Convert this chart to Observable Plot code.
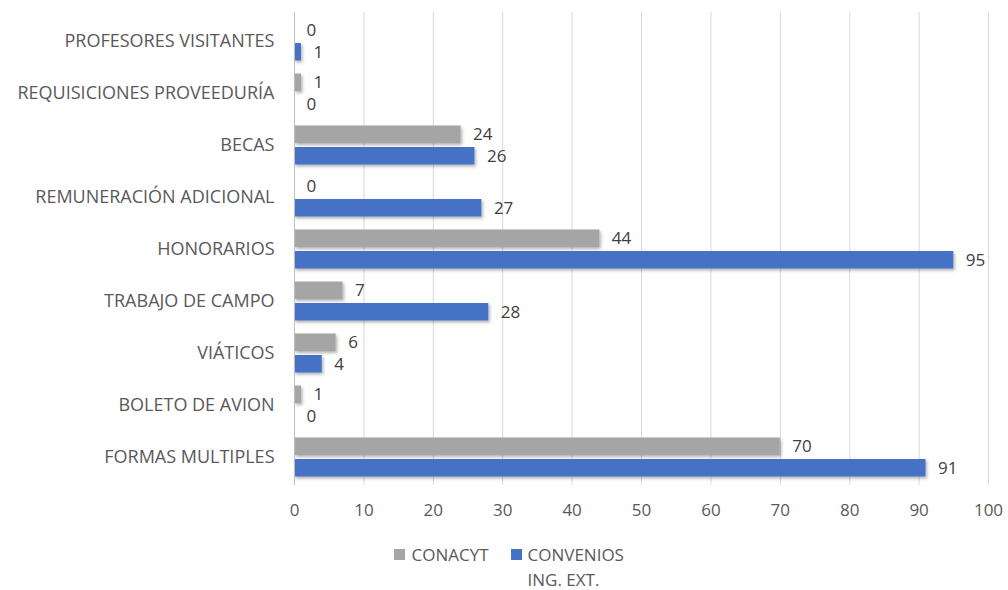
<!DOCTYPE html>
<html>
<head>
<meta charset="utf-8">
<script src="https://cdn.jsdelivr.net/npm/d3@7"></script>
<script src="https://cdn.jsdelivr.net/npm/@observablehq/plot@0.6"></script>
<style>
  body { margin: 0; background: #fff; font-family: "Open Sans", sans-serif; }
  #legend { display: flex; justify-content: center; gap: 22px; color: #595959; font-size: 17px; margin-top: 12px; padding-left: 24px; }
  .item { display: flex; align-items: flex-start; }
  .sw { width: 11px; height: 11px; margin-right: 6px; margin-top: 7px; flex: none; }
  .lbl { max-width: 110px; line-height: 25px; }
</style>
</head>
<body>
<div id="chart"></div>
<div id="legend"></div>
<script>
const categories = ["PROFESORES VISITANTES", "REQUISICIONES PROVEEDURÍA", "BECAS", "REMUNERACIÓN ADICIONAL", "HONORARIOS", "TRABAJO DE CAMPO", "VIÁTICOS", "BOLETO DE AVION", "FORMAS MULTIPLES"];
const seriesNames = ["CONACYT", "CONVENIOS ING. EXT."];
const conacyt = [0, 1, 24, 0, 44, 7, 6, 1, 70];
const convenios = [1, 0, 26, 27, 95, 28, 4, 0, 91];
const xTicks = [0, 10, 20, 30, 40, 50, 60, 70, 80, 90, 100];
const colors = ["#a5a5a5", "#4472c4"];

const rows = [];
categories.forEach((c, i) => {
  rows.push({category: c, series: seriesNames[0], value: conacyt[i]});
  rows.push({category: c, series: seriesNames[1], value: convenios[i]});
});
const gray = rows.filter(d => d.series === seriesNames[0]);
const blue = rows.filter(d => d.series === seriesNames[1]);

const plot = Plot.plot({
  width: 1008,
  height: 530,
  marginLeft: 294,
  marginRight: 20,
  marginTop: 12,
  marginBottom: 45,
  style: {fontFamily: "'Open Sans', sans-serif", fontSize: "17px", color: "#595959", background: "#fff"},
  x: {domain: [0, 100], ticks: xTicks, tickSize: 0, tickPadding: 18, label: null},
  y: {domain: categories, padding: 0, tickSize: 0, tickPadding: 20, label: null},
  marks: [
    Plot.ruleX(xTicks.slice(1), {stroke: "#d9d9d9", strokeWidth: 1}),
    Plot.barX(gray, {x: "value", y: "category", fill: colors[0], insetTop: 6.5, insetBottom: 28}),
    Plot.barX(blue, {x: "value", y: "category", fill: colors[1], insetTop: 28, insetBottom: 6.5}),
    Plot.ruleX([0], {stroke: "#bfbfbf", strokeWidth: 1}),
    Plot.text(gray, {x: "value", y: "category", text: d => String(d.value), dx: 12, dy: -11, textAnchor: "start", fill: "#404040", fontSize: 17}),
    Plot.text(blue, {x: "value", y: "category", text: d => String(d.value), dx: 12, dy: 11, textAnchor: "start", fill: "#404040", fontSize: 17})
  ]
});

// y-axis category labels a bit larger, like the reference
plot.querySelectorAll("g[aria-label='y-axis tick label'] text, g[aria-label='y-axis'] text").forEach(t => t.setAttribute("font-size", "18"));

// subtle drop shadow on bars
const ns = "http://www.w3.org/2000/svg";
const defs = document.createElementNS(ns, "defs");
defs.innerHTML = `<filter id="sh" x="-5%" y="-30%" width="110%" height="180%"><feDropShadow dx="1.5" dy="2" stdDeviation="1.5" flood-color="#000" flood-opacity="0.3"/></filter>`;
plot.insertBefore(defs, plot.firstChild);
plot.querySelectorAll("g[aria-label='bar']").forEach(g => g.setAttribute("filter", "url(#sh)"));

document.getElementById("chart").appendChild(plot);

const legend = document.getElementById("legend");
seriesNames.forEach((s, i) => {
  const it = document.createElement("div");
  it.className = "item";
  it.innerHTML = `<span class="sw" style="background:${colors[i]}"></span><span class="lbl">${s}</span>`;
  legend.appendChild(it);
});
</script>
</body>
</html>
